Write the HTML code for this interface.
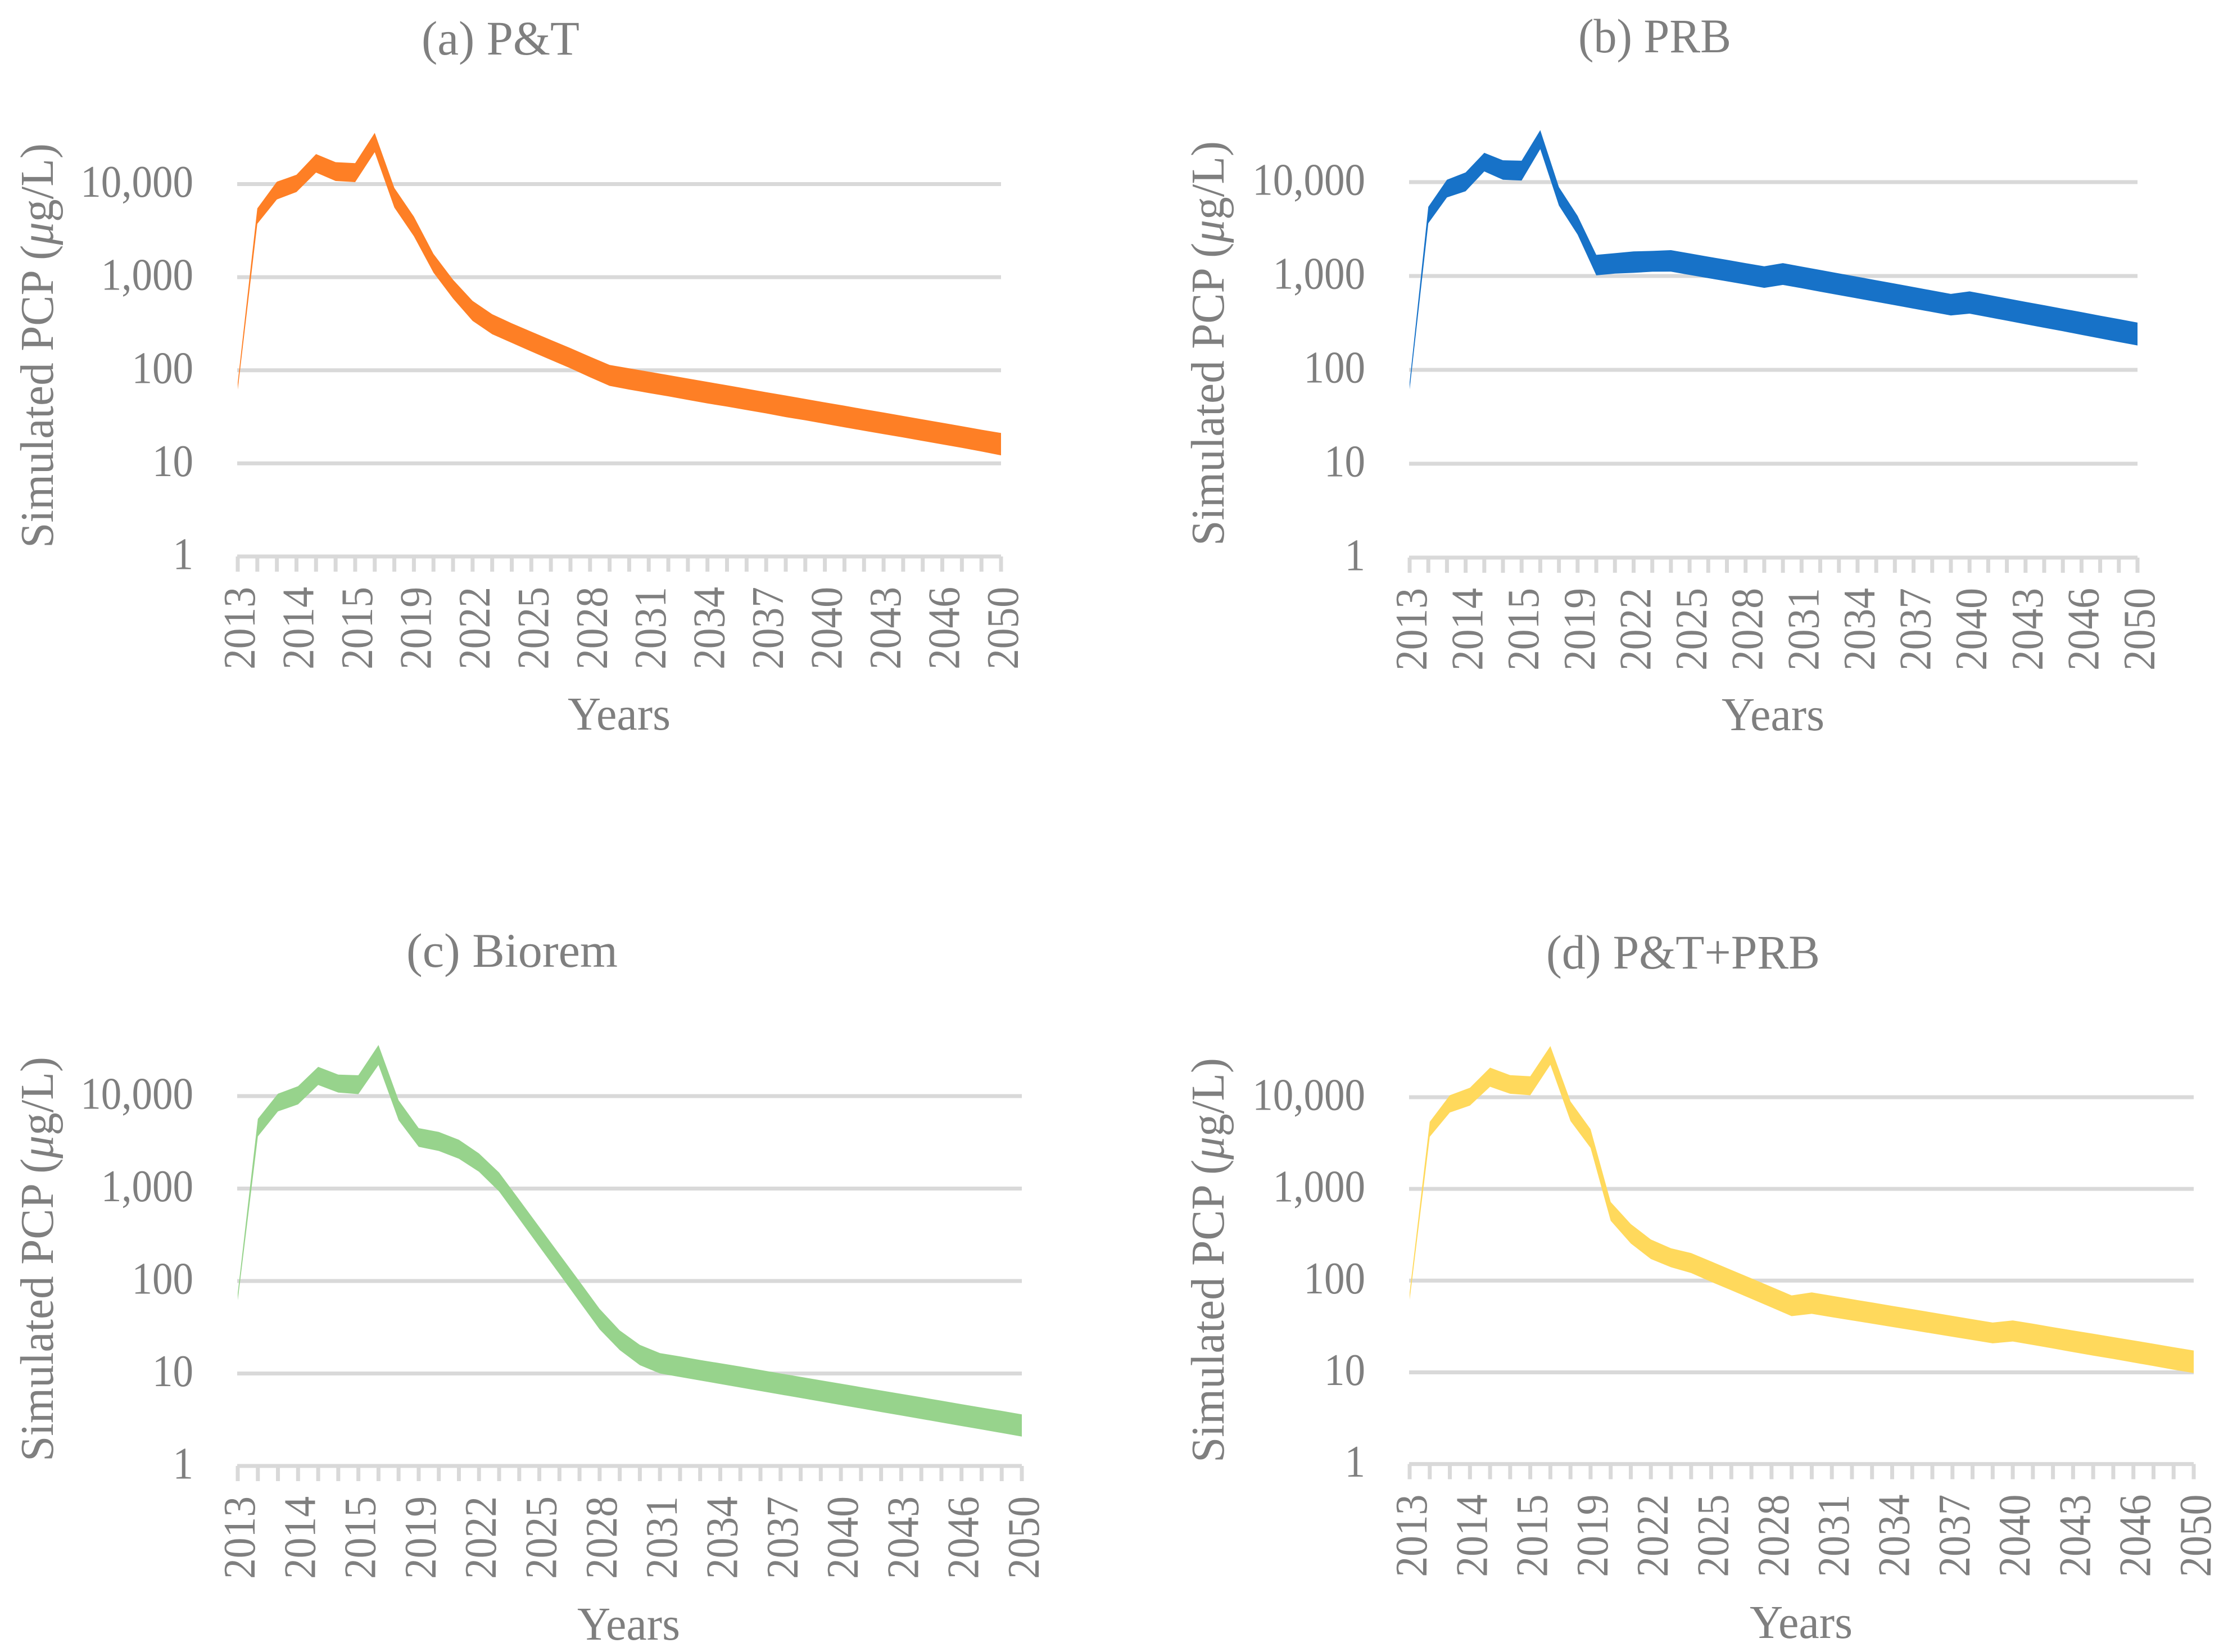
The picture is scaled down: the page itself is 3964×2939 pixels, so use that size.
<!DOCTYPE html>
<html lang="en">
<head>
<meta charset="utf-8">
<title>Simulated PCP under four remediation scenarios</title>
<style>
html,body{margin:0;padding:0;background:#fff;width:3964px;height:2939px;overflow:hidden}
svg{display:block}
text{font-family:"Liberation Serif",serif;fill:#7f7f7f}
</style>
</head>
<body>
<svg id="figure" xmlns="http://www.w3.org/2000/svg" width="3964" height="2939" viewBox="0 0 3964 2939">
<rect x="0" y="0" width="3964" height="2939" fill="#ffffff"/>

<g id="panel-a">
<text x="750" y="97" font-size="86" textLength="281" lengthAdjust="spacingAndGlyphs">(a) P&amp;T</text>
<text transform="translate(94 975) rotate(-90)" font-size="84" textLength="720" lengthAdjust="spacingAndGlyphs">Simulated PCP (<tspan font-style="italic">μ</tspan>g/L)</text>
<text x="1010" y="1298" font-size="84" textLength="183" lengthAdjust="spacingAndGlyphs">Years</text>
</g>

<g id="panel-b">
<text x="2808" y="93" font-size="86" textLength="272" lengthAdjust="spacingAndGlyphs">(b) PRB</text>
<text transform="translate(2177 971) rotate(-90)" font-size="84" textLength="720" lengthAdjust="spacingAndGlyphs">Simulated PCP (<tspan font-style="italic">μ</tspan>g/L)</text>
<text x="3063" y="1299" font-size="84" textLength="183" lengthAdjust="spacingAndGlyphs">Years</text>
</g>

<g id="panel-c">
<text x="723" y="1720" font-size="86" textLength="376" lengthAdjust="spacingAndGlyphs">(c) Biorem</text>
<text transform="translate(94 2600) rotate(-90)" font-size="84" textLength="720" lengthAdjust="spacingAndGlyphs">Simulated PCP (<tspan font-style="italic">μ</tspan>g/L)</text>
<text x="1027" y="2917" font-size="84" textLength="183" lengthAdjust="spacingAndGlyphs">Years</text>
</g>

<g id="panel-d">
<text x="2751" y="1723" font-size="86" textLength="487" lengthAdjust="spacingAndGlyphs">(d) P&amp;T+PRB</text>
<text transform="translate(2177 2602) rotate(-90)" font-size="84" textLength="720" lengthAdjust="spacingAndGlyphs">Simulated PCP (<tspan font-style="italic">μ</tspan>g/L)</text>
<text x="3113" y="2914" font-size="84" textLength="183" lengthAdjust="spacingAndGlyphs">Years</text>
</g>
</svg>

<script>
// ---- Chart data ----
const categories = ["2013","2013","2013","2014","2014","2014","2015","2015","2015","2019","2020","2021","2022","2023","2024","2025","2026","2027","2028","2029","2030","2031","2032","2033","2034","2035","2036","2037","2038","2039","2040","2041","2042","2043","2044","2045","2046","2047","2048","2050"];
const yTickValues = [1, 10, 100, 1000, 10000];
const yTickLabels = ["1", "10", "100", "1,000", "10,000"];
const xLabelEvery = 3;

const upperA = [74,5480,10600,12600,21000,17200,16800,35500,9100,4470,1780,940,556,400,320,260,212,173,140,114,105,96.6,88.8,81.6,75,69,63.4,58.2,53.6,49.2,45.2,41.6,38.2,35.2,32.3,29.7,27.3,25.1,23,21.2];
const lowerA = [62,3750,6830,8220,13300,10800,10500,22000,5600,2750,1120,590,339,244,197,159,129,105,84,68,62,57,52.5,48,44,40.7,37.4,34.4,31.4,29,26.6,24.4,22.4,20.6,19,17.4,16,14.7,13.4,12.2];

const upperB = [74,5450,10600,12700,20500,17100,16900,35800,8850,4370,1680,1750,1830,1850,1885,1740,1607,1485,1371,1268,1371,1261,1160,1066,981,902,830,763,701,644,685,630,578,530,488,448,412,378,348,319];
const lowerB = [62,3640,6870,8000,13000,10600,10400,22500,5620,2760,1015,1060,1080,1110,1112,1027,948,877,810,748,803,740,680,626,576,530,488,449,413,380,397,364,334,306,281,258,236,216,198,182];

const upperC = [74,5670,10600,12800,20700,17100,16800,35700,9000,4500,4100,3370,2400,1490,758,385,195,99,50,29.2,20.4,16.6,15.3,14,12.9,11.9,10.9,10,9.2,8.44,7.76,7.13,6.55,6.02,5.53,5.08,4.66,4.28,3.94,3.61];
const lowerC = [62,3660,6820,8130,13200,10900,10500,21700,5480,2830,2550,2100,1520,930,468,236,119,59.6,30,17.9,12.3,10,9.16,8.4,7.7,7.05,6.46,5.92,5.43,4.97,4.56,4.18,3.83,3.51,3.22,2.95,2.7,2.48,2.27,2.08];

const upperD = [74,5400,10500,12700,21000,17400,16900,36100,9000,4480,720,414,281,225,200,162,131,106,85.5,69,74.3,68.4,62.8,57.8,53.1,48.9,44.9,41.3,37.9,34.9,36.8,33.9,31.1,28.6,26.4,24.2,22.3,20.5,18.8,17.3];
const lowerD = [62,3700,6800,8100,13000,10900,10500,22600,5500,2800,450,254,172,140,121,97,78.5,63.3,51,41,43.4,39.9,36.8,33.9,31.2,28.8,26.5,24.4,22.5,20.7,21.7,19.9,18.2,16.6,15.2,14,12.8,11.7,10.7,9.82];

// ---- Layout of each panel (pixels, not data) ----
const SVG_NS = "http://www.w3.org/2000/svg";
const GRID = "#d9d9d9";
const panels = [
  {id:"a", left:423,  right:1781, top:327.5, bottom:990,    labelRight:344,  color:"#fe7f25", upper:upperA, lower:lowerA},
  {id:"b", left:2508, right:3803, top:324,   bottom:992,    labelRight:2429, color:"#1772c8", upper:upperB, lower:lowerB},
  {id:"c", left:423,  right:1818, top:1950,  bottom:2608,   labelRight:344,  color:"#97d38c", upper:upperC, lower:lowerC},
  {id:"d", left:2508, right:3903, top:1952,  bottom:2604.6, labelRight:2429, color:"#ffd95c", upper:upperD, lower:lowerD}
];

function glyphWidth(label) {
  let w = 0;
  for (const ch of label) w += (ch === ",") ? 0.25 : 0.5;
  return w * 73;
}

function drawPanel(p) {
  const group = document.getElementById("panel-" + p.id);
  const decades = Math.log10(yTickValues[yTickValues.length - 1] / yTickValues[0]);
  const xScale = i => p.left + (p.right - p.left) * i / (categories.length - 1);
  const yScale = v => p.bottom - (p.bottom - p.top) * Math.log10(v / yTickValues[0]) / decades;

  // gridlines and y tick labels
  yTickValues.forEach((v, i) => {
    const y = yScale(v);
    const line = document.createElementNS(SVG_NS, "line");
    
    
    line.setAttribute("x1", p.left - 1);
    line.setAttribute("x2", p.right);
    line.setAttribute("y1", y);
    line.setAttribute("y2", y);
    line.setAttribute("stroke", GRID);
    line.setAttribute("stroke-width", "7");
    group.appendChild(line);

    const label = document.createElementNS(SVG_NS, "text");
    
    
    label.setAttribute("x", p.labelRight);
    label.setAttribute("y", y + 22.5);
    label.setAttribute("text-anchor", "end");
    label.setAttribute("font-size", "80");
    label.setAttribute("textLength", glyphWidth(yTickLabels[i]));
    label.setAttribute("lengthAdjust", "spacingAndGlyphs");
    label.textContent = yTickLabels[i];
    group.appendChild(label);
  });

  // x ticks and rotated tick labels
  categories.forEach((c, i) => {
    const x = xScale(i);
    const tick = document.createElementNS(SVG_NS, "line");
    
    
    tick.setAttribute("x1", x);
    tick.setAttribute("x2", x);
    tick.setAttribute("y1", p.bottom);
    tick.setAttribute("y2", p.bottom + 27);
    tick.setAttribute("stroke", GRID);
    tick.setAttribute("stroke-width", "7");
    group.appendChild(tick);

    if (i % xLabelEvery === 0) {
      const label = document.createElementNS(SVG_NS, "text");
      
      
      label.setAttribute("transform", "translate(" + (x + 30) + " " + (p.bottom + 201) + ") rotate(-90)");
      label.setAttribute("font-size", "80");
      label.setAttribute("textLength", "147");
      label.setAttribute("lengthAdjust", "spacingAndGlyphs");
      label.textContent = c;
      group.appendChild(label);
    }
  });

  // simulated range band
  const pts = [];
  p.upper.forEach((v, i) => pts.push(xScale(i).toFixed(1) + "," + yScale(v).toFixed(1)));
  for (let i = p.lower.length - 1; i >= 0; i--) {
    pts.push(xScale(i).toFixed(1) + "," + yScale(p.lower[i]).toFixed(1));
  }
  const band = document.createElementNS(SVG_NS, "polygon");
  
  
  band.setAttribute("points", pts.join(" "));
  band.setAttribute("fill", p.color);
  group.appendChild(band);
}

panels.forEach(drawPanel);
</script>
</body>
</html>
